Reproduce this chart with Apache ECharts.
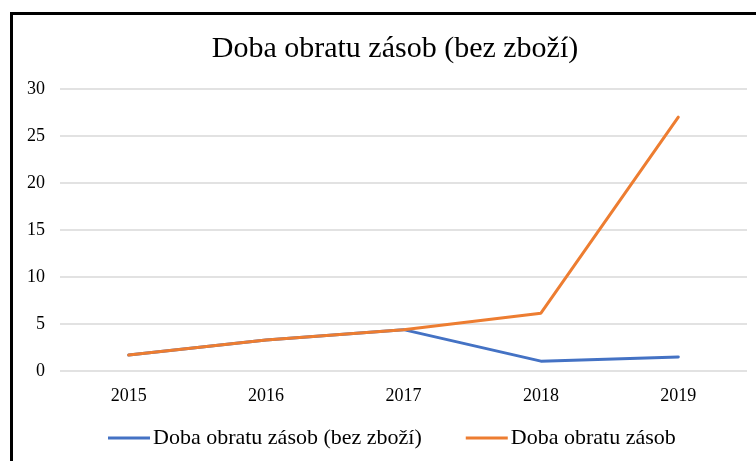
<!DOCTYPE html>
<html><head><meta charset="utf-8">
<script src="https://cdn.jsdelivr.net/npm/echarts@6/dist/echarts.min.js"></script>
<style>html,body{margin:0;padding:0;background:#fff}#c{width:756px;height:461px}</style>
</head><body><div id="c"></div>
<script>
const categories = ['2015','2016','2017','2018','2019'];
const seriesBezZbozi = [1.7, 3.3, 4.4, 1.05, 1.5];
const seriesZasob = [1.7, 3.3, 4.4, 6.15, 27.0];
const seriesNames = ['Doba obratu zásob (bez zboží)', 'Doba obratu zásob'];
const titleText = 'Doba obratu zásob (bez zboží)';
const font = '"Liberation Serif","Times New Roman",serif';

const chart = echarts.init(document.getElementById('c'));
chart.setOption({
  animation: false,
  title: { text: titleText, left: 390, top: 29, textAlign: 'center',
    textStyle: { fontFamily: font, fontWeight: 'normal', fontSize: 30, color: '#000' } },
  graphic: [{ type: 'rect', shape: { x: 11.5, y: 13.5, width: 800, height: 500 },
    style: { fill: 'none', stroke: '#000', lineWidth: 3 }, silent: true }],
  grid: { left: 60, right: 9, top: 89, bottom: 90, containLabel: false },
  legend: { top: 422, left: 103, icon: 'rect', itemWidth: 42, itemHeight: 3, itemGap: 44,
    textStyle: { fontFamily: font, fontSize: 22, color: '#000', padding: [0,0,0,-2] },
    data: seriesNames },
  xAxis: { type: 'category', data: categories, boundaryGap: true,
    axisLine: { show: false }, axisTick: { show: false },
    axisLabel: { fontFamily: font, fontSize: 18, color: '#000', margin: 16 } },
  yAxis: { type: 'value', min: 0, max: 30, interval: 5,
    axisLine: { show: false }, axisTick: { show: false },
    splitLine: { lineStyle: { color: '#d9d9d9', width: 1.5 } },
    axisLabel: { fontFamily: font, fontSize: 18, color: '#000', margin: 15 } },
  series: [
    { name: seriesNames[0], type: 'line', data: seriesBezZbozi, symbol: 'none',
      lineStyle: { color: '#4472C4', width: 3, cap: 'round' }, itemStyle: { color: '#4472C4' } },
    { name: seriesNames[1], type: 'line', data: seriesZasob, symbol: 'none',
      lineStyle: { color: '#ED7D31', width: 3, cap: 'round' }, itemStyle: { color: '#ED7D31' } }
  ]
});
</script></body></html>
